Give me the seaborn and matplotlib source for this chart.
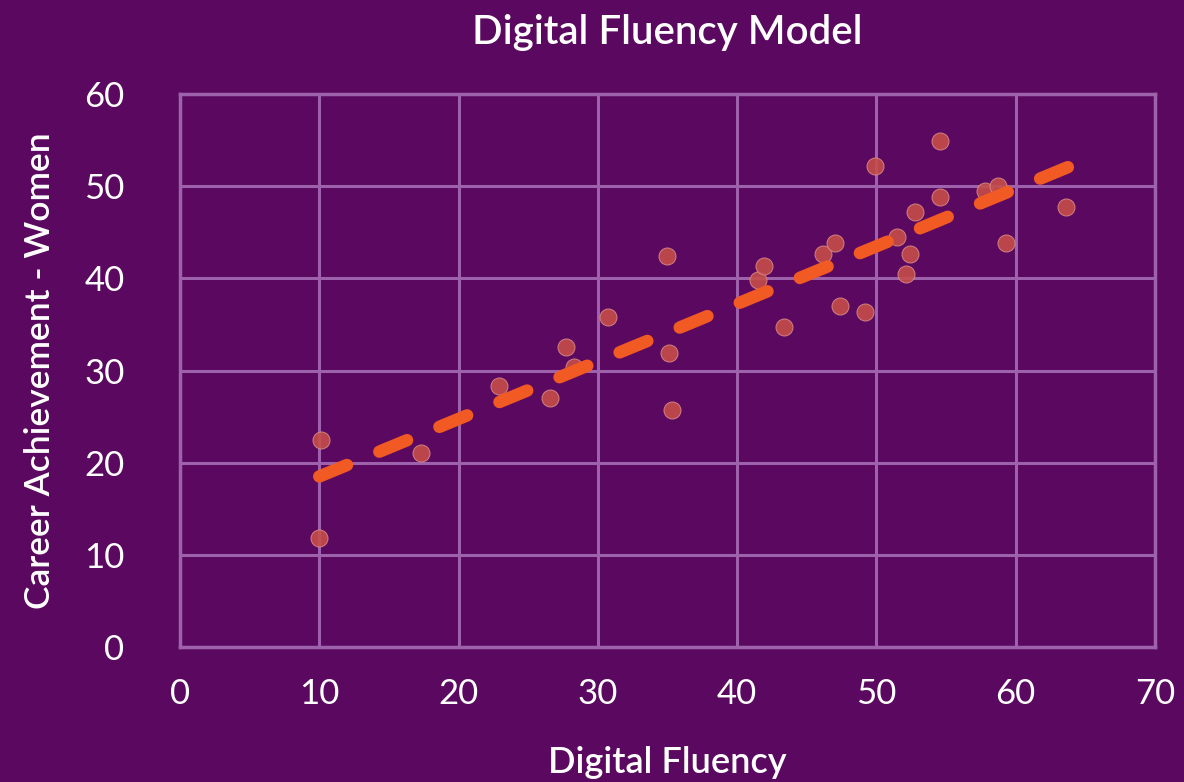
# Digital Fluency Model - scatter with linear trend

import numpy as np
import pandas as pd
import matplotlib.pyplot as plt
import seaborn as sns

# Data
fluency = [10.1, 10.0, 17.3, 22.9, 26.6, 27.7, 28.3, 30.7, 35.0, 35.1, 35.3,
           41.5, 41.9, 43.4, 46.2, 47.0, 47.4, 49.2, 49.9, 51.5, 52.1, 52.4,
           52.8, 54.6, 54.6, 57.8, 58.7, 59.3, 63.6]
career = [22.5, 11.8, 21.0, 28.3, 27.0, 32.5, 30.4, 35.8, 42.4, 31.9, 25.7,
          39.8, 41.3, 34.7, 42.6, 43.8, 37.0, 36.4, 52.2, 44.5, 40.5, 42.6,
          47.2, 54.9, 48.8, 49.5, 50.0, 43.8, 47.7]
trend_range = [10, 65]
x_ticks = [0, 10, 20, 30, 40, 50, 60, 70]
y_ticks = [0, 10, 20, 30, 40, 50, 60]

df = pd.DataFrame({"fluency": fluency, "career": career})

# Linear trend line
slope, intercept = np.polyfit(df["fluency"], df["career"], 1)
trend = pd.DataFrame({"x": trend_range})
trend["y"] = slope * trend["x"] + intercept

# Style
bg = "#5a0860"
grid_col = "#9d62ab"
sns.set_theme(style="white")
plt.rcParams['font.family'] = ['Lato', 'DejaVu Sans']

fig = plt.figure(figsize=(11.84, 7.82), dpi=100, facecolor=bg)
ax = fig.add_axes([0.152, 0.1726, 0.8235, 0.7072])
ax.set_facecolor(bg)

sns.scatterplot(data=df, x="fluency", y="career", ax=ax, s=150,
                color="#c54e4a", alpha=0.9, edgecolor="#d98a86", linewidth=0.7,
                zorder=3)
sns.lineplot(data=trend, x="x", y="y", ax=ax, color="#f15a22", linewidth=9,
             dashes=False, zorder=4)
ax.lines[-1].set_linestyle((0, (2.4, 2.8)))
ax.lines[-1].set_dash_capstyle("round")

ax.set_xlim(0, 70)
ax.set_ylim(0, 60)
ax.set_xticks(x_ticks)
ax.set_yticks(y_ticks)
ax.grid(True, color=grid_col, linewidth=2.2)
ax.set_axisbelow(True)
for s in ax.spines.values():
    s.set_color(grid_col)
    s.set_linewidth(2.5)

ax.tick_params(axis="both", length=0, colors="white", labelsize=25)
ax.tick_params(axis="x", pad=22)
ax.tick_params(axis="y", pad=40)

ax.set_title("Digital Fluency Model", color="white", fontsize=29,
             fontweight="semibold", pad=36)
ax.set_xlabel("Digital Fluency", color="white", fontsize=26,
              fontweight="semibold", labelpad=26)
ax.set_ylabel("Career Achievement - Women", color="white", fontsize=25.5,
              fontweight="semibold", labelpad=20)

fig.savefig("out.png", dpi=100, facecolor=bg)
